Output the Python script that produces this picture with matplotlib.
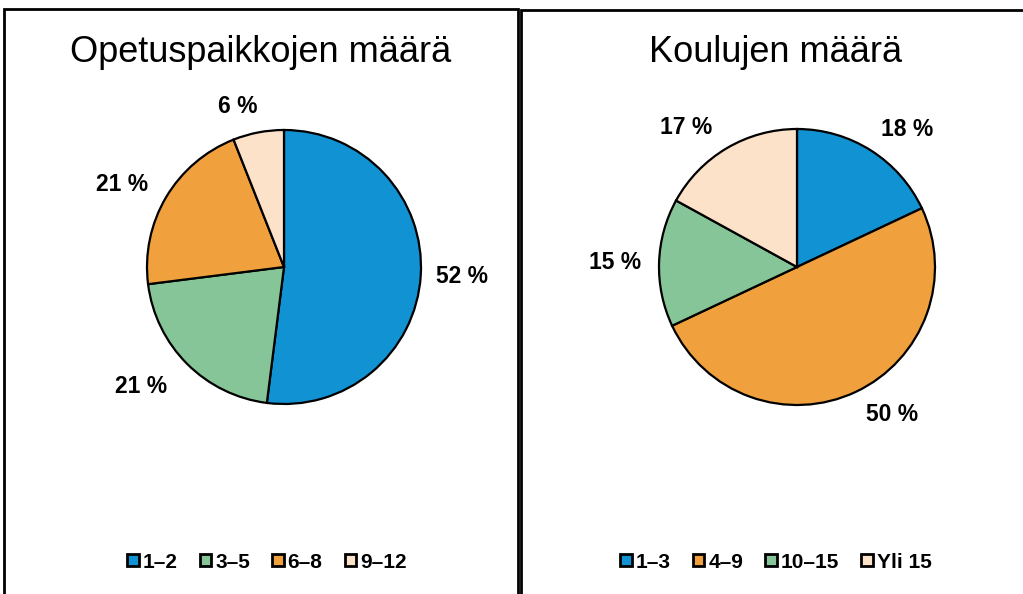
import matplotlib
matplotlib.use("Agg")
import matplotlib.pyplot as plt
from matplotlib.patches import Patch, Rectangle

plt.rcParams['font.family'] = ['Liberation Sans', 'DejaVu Sans']

# Data
left_title = "Opetuspaikkojen määrä"
left_categories = ["1–2", "3–5", "6–8", "9–12"]
left_values = [52, 21, 21, 6]
right_title = "Koulujen määrä"
right_categories = ["1–3", "4–9", "10–15", "Yli 15"]
right_values = [18, 50, 15, 17]

BLUE = "#1192D3"
GREEN = "#86C598"
ORANGE = "#F0A13D"
PEACH = "#FCE2C9"
left_colors = [BLUE, GREEN, ORANGE, PEACH]
right_colors = [BLUE, ORANGE, GREEN, PEACH]

# label positions relative to pie centre (radius units)
left_label_pos = [(1.30, -0.066), (-1.04, -0.875), (-1.18, 0.60), (-0.34, 1.17)]
right_label_pos = [(0.80, 1.00), (0.69, -1.07), (-1.32, 0.03), (-0.80, 1.01)]

W, H = 1023, 594
fig = plt.figure(figsize=(W / 100, H / 100), dpi=100)

# panel borders
fig.patches.append(Rectangle((4 / W, -0.1), (518 - 4) / W, 1.1 - 9 / H,
                             transform=fig.transFigure, fill=False, lw=2, ec="black"))
fig.patches.append(Rectangle((521 / W, -0.1), 0.6, 1.1 - 10 / H,
                             transform=fig.transFigure, fill=False, lw=2, ec="black"))


def draw_pie(cx, cy, r, values, colors, label_pos, title, tx, cats, lx):
    ax = fig.add_axes([(cx - r) / W, (H - cy - r) / H, 2 * r / W, 2 * r / H])
    ax.pie(values, colors=colors, startangle=90, counterclock=False, radius=1,
           wedgeprops=dict(edgecolor="black", linewidth=1.6))
    ax.set_xlim(-1.0, 1.0)
    ax.set_ylim(-1.0, 1.0)
    for v, (px, py) in zip(values, label_pos):
        ax.text(px, py, f"{v} %", ha="center", va="center", fontsize=16.5,
                fontweight="bold", clip_on=False)
    fig.text(tx / W, 1 - 52 / H, title, ha="center", va="center", fontsize=26)
    handles = [Patch(facecolor=c, edgecolor="black", linewidth=2.0) for c in colors]
    fig.legend(handles, cats, loc="center", bbox_to_anchor=(lx / W, 1 - 562 / H),
               ncol=4, frameon=False, handlelength=0.55, handleheight=0.55,
               handletextpad=0.2, columnspacing=1.05,
               prop=dict(weight="bold", size=15))


draw_pie(284, 267, 137, left_values, left_colors, left_label_pos, left_title, 261,
         left_categories, 267)
draw_pie(797, 267, 138, right_values, right_colors, right_label_pos, right_title, 776,
         right_categories, 776)

fig.savefig("out.png", dpi=100)
